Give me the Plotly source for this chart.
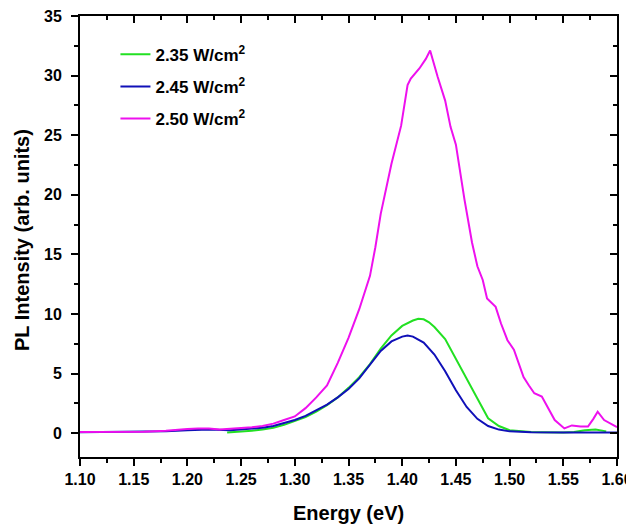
import plotly.graph_objects as go

# ---- data ----
names = ["2.35 W/cm<sup>2</sup>", "2.45 W/cm<sup>2</sup>", "2.50 W/cm<sup>2</sup>"]
colors = ["#22e022", "#1010b8", "#ee10ee"]

x_235 = [1.237, 1.25, 1.26, 1.27, 1.28, 1.29, 1.30, 1.31, 1.32, 1.33, 1.34, 1.35, 1.36, 1.37,
         1.38, 1.39, 1.40, 1.41, 1.415, 1.42, 1.425, 1.43, 1.44, 1.45, 1.46, 1.47, 1.48, 1.49,
         1.50, 1.51, 1.52, 1.53, 1.54, 1.55, 1.56, 1.57, 1.58, 1.59]
y_235 = [0.05, 0.12, 0.2, 0.3, 0.45, 0.7, 1.0, 1.35, 1.8, 2.35, 3.0, 3.8, 4.7, 5.8,
         7.1, 8.2, 9.0, 9.45, 9.6, 9.55, 9.3, 8.9, 7.9, 6.2, 4.5, 2.9, 1.25, 0.6,
         0.25, 0.15, 0.1, 0.08, 0.06, 0.06, 0.1, 0.25, 0.3, 0.15]

x_245 = [1.10, 1.12, 1.14, 1.16, 1.18, 1.20, 1.22, 1.24, 1.26, 1.27, 1.28, 1.29, 1.30, 1.31,
         1.32, 1.33, 1.34, 1.35, 1.36, 1.37, 1.38, 1.39, 1.40, 1.405, 1.41, 1.42, 1.43, 1.44,
         1.45, 1.46, 1.47, 1.48, 1.49, 1.50, 1.52, 1.55, 1.58, 1.60]
y_245 = [0.08, 0.1, 0.1, 0.12, 0.15, 0.25, 0.3, 0.25, 0.35, 0.45, 0.6, 0.85, 1.1, 1.45,
         1.9, 2.4, 3.0, 3.7, 4.6, 5.8, 6.9, 7.7, 8.1, 8.2, 8.1, 7.6, 6.6, 5.2,
         3.6, 2.2, 1.2, 0.6, 0.3, 0.15, 0.08, 0.06, 0.06, 0.06]

x_250 = [1.10, 1.12, 1.14, 1.16, 1.18, 1.19, 1.20, 1.21, 1.22, 1.23, 1.24, 1.25, 1.26, 1.27,
         1.28, 1.29, 1.30, 1.31, 1.32, 1.33, 1.34, 1.35, 1.36, 1.37, 1.375, 1.38, 1.387, 1.39,
         1.399, 1.405, 1.408, 1.416, 1.422, 1.426, 1.433, 1.44, 1.445, 1.45, 1.458, 1.465,
         1.47, 1.475, 1.479, 1.487, 1.492, 1.498, 1.504, 1.509, 1.513, 1.518, 1.523, 1.53,
         1.535, 1.542, 1.551, 1.558, 1.566, 1.573, 1.578, 1.582, 1.588, 1.594, 1.60]
y_250 = [0.1, 0.1, 0.12, 0.12, 0.2, 0.3, 0.35, 0.4, 0.4, 0.3, 0.35, 0.4, 0.5, 0.6,
         0.8, 1.1, 1.4, 2.1, 3.0, 4.0, 5.9, 8.0, 10.4, 13.2, 15.6, 18.4, 21.2, 22.6,
         25.8, 29.2, 29.75, 30.6, 31.4, 32.1, 29.9, 27.9, 25.7, 24.2, 19.6, 16.0,
         14.0, 12.85, 11.3, 10.6, 9.2, 7.8, 7.0, 5.8, 4.7, 4.0, 3.35, 3.07,
         2.3, 1.1, 0.4, 0.65, 0.55, 0.55, 1.2, 1.8, 1.1, 0.8, 0.5]

x_ticks = [1.10, 1.15, 1.20, 1.25, 1.30, 1.35, 1.40, 1.45, 1.50, 1.55, 1.60]
x_tick_labels = ["%.2f" % v for v in x_ticks]
x_minor = [1.125, 1.175, 1.225, 1.275, 1.325, 1.375, 1.425, 1.475, 1.525, 1.575]
y_ticks = [0, 5, 10, 15, 20, 25, 30, 35]
y_minor = [2.5, 7.5, 12.5, 17.5, 22.5, 27.5, 32.5]
x_title = "Energy (eV)"
y_title = "PL Intensity (arb. units)"

xs = [x_235, x_245, x_250]
ys = [y_235, y_245, y_250]

fig = go.Figure()
for i, (n, c, xv, yv) in enumerate(zip(names, colors, xs, ys)):
    fig.add_trace(go.Scatter(x=xv, y=yv, mode="lines", name=n, legendgroup="g%d" % i,
                             line=dict(color=c, width=2)))

font_family = "Liberation Sans, Arial, sans-serif"
tickfont = dict(family=font_family, size=16, color="black", weight="bold")
title_font = dict(family=font_family, size=20, color="black", weight="bold")

xr = [1.10, 1.60]
yr = [-2, 35]

common = dict(showgrid=False, zeroline=False, showline=True, linecolor="black",
              linewidth=2, tickwidth=2, tickcolor="black", automargin=False,
              ticklabeloverflow="allow")

# the page body adds an 8px offset; margins place the plot box where the reference has it
fig.update_layout(
    width=634, height=529,
    margin=dict(l=72, r=25, t=8, b=80, autoexpand=False),
    paper_bgcolor="white", plot_bgcolor="white",
    font=dict(family=font_family, color="black"),
    showlegend=True,
    legend=dict(x=0.066, y=0.953, xanchor="left", yanchor="top",
                bgcolor="rgba(0,0,0,0)",
                font=dict(family=font_family, size=17, color="black", weight="bold"),
                tracegroupgap=7),
    xaxis=dict(range=xr, tickvals=x_ticks, ticktext=x_tick_labels,
               ticks="outside", ticklen=7, tickfont=tickfont,
               minor=dict(tickvals=x_minor, ticks="outside", ticklen=4, tickwidth=2,
                          tickcolor="black", showgrid=False),
               **common),
    yaxis=dict(range=yr, tickvals=y_ticks,
               ticks="outside", ticklen=7, tickfont=tickfont, ticklabelstandoff=6,
               minor=dict(tickvals=y_minor, ticks="outside", ticklen=4, tickwidth=2,
                          tickcolor="black", showgrid=False),
               **common),
    xaxis2=dict(range=xr, overlaying="x", side="top", anchor="y",
                tickvals=x_ticks, showticklabels=False,
                ticks="inside", ticklen=7,
                minor=dict(tickvals=x_minor, ticks="inside", ticklen=4, tickwidth=2,
                           tickcolor="black", showgrid=False),
                **common),
    yaxis2=dict(range=yr, overlaying="y", side="right", anchor="x",
                tickvals=y_ticks, showticklabels=False,
                ticks="inside", ticklen=7,
                minor=dict(tickvals=y_minor, ticks="inside", ticklen=4, tickwidth=2,
                           tickcolor="black", showgrid=False),
                **common),
    annotations=[
        dict(text=x_title, xref="paper", yref="paper", x=0.5, y=-0.127,
             xanchor="center", yanchor="middle", showarrow=False, font=title_font),
        dict(text=y_title, xref="paper", yref="paper", x=-0.108, y=0.492,
             xanchor="center", yanchor="middle", textangle=-90, showarrow=False,
             font=title_font),
    ],
)

# invisible helper trace so the top/right axes are drawn
fig.add_trace(go.Scatter(x=xr, y=yr, xaxis="x2", yaxis="y2",
                         mode="markers", marker=dict(opacity=0),
                         showlegend=False, hoverinfo="skip"))

fig.write_html("out.html")
